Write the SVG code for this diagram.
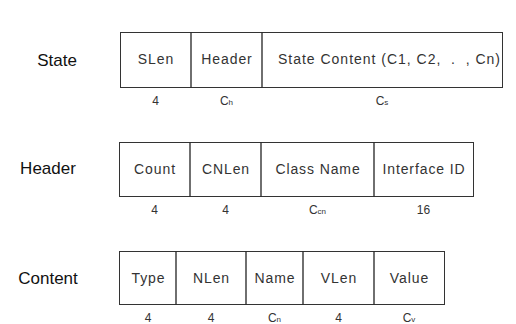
<svg xmlns="http://www.w3.org/2000/svg" width="516" height="324" viewBox="0 0 516 324">
<style>
.lbl{font-family:"Liberation Sans",Arial,sans-serif;font-size:17px;fill:#111;text-anchor:middle}
.f{font-family:"Liberation Sans",Arial,sans-serif;font-size:14px;fill:#333;text-anchor:middle;letter-spacing:0.9px}
.n{font-family:"Liberation Sans",Arial,sans-serif;font-size:12px;fill:#333;text-anchor:middle}
.s{font-size:8px}
rect{fill:#fff;stroke:#333;stroke-width:1}
line{stroke:#222;stroke-width:1.3}
</style>
<rect width="516" height="324" style="fill:#fff;stroke:none"/>
<g id="state">
<text class="lbl" x="57" y="66">State</text>
<rect x="120.5" y="32.5" width="382" height="55"/>
<line x1="191" y1="32.5" x2="191" y2="87.5"/>
<line x1="262" y1="32.5" x2="262" y2="87.5"/>
<text class="f" x="156" y="64">SLen</text>
<text class="f" x="227" y="64">Header</text>
<text class="f" x="389" y="64" textLength="222" lengthAdjust="spacing" style="letter-spacing:0" xml:space="preserve">State Content (C1, C2,  .  , Cn)</text>
<text class="n" x="155.5" y="105">4</text>
<text class="n" x="226.5" y="105">C<tspan class="s">h</tspan></text>
<text class="n" x="382" y="105">C<tspan class="s">s</tspan></text>
</g>
<g id="header">
<text class="lbl" x="48" y="174">Header</text>
<rect x="119.5" y="142.5" width="354" height="54"/>
<line x1="190" y1="142.5" x2="190" y2="196.5"/>
<line x1="261" y1="142.5" x2="261" y2="196.5"/>
<line x1="374" y1="142.5" x2="374" y2="196.5"/>
<text class="f" x="155" y="174">Count</text>
<text class="f" x="226" y="174">CNLen</text>
<text class="f" x="318" y="174">Class Name</text>
<text class="f" x="424" y="174">Interface ID</text>
<text class="n" x="154.5" y="214">4</text>
<text class="n" x="225.5" y="214">4</text>
<text class="n" x="317.5" y="214">C<tspan class="s">cn</tspan></text>
<text class="n" x="423.5" y="214">16</text>
</g>
<g id="content">
<text class="lbl" x="48" y="284">Content</text>
<rect x="119.5" y="251.5" width="325" height="53"/>
<line x1="176" y1="251.5" x2="176" y2="304.5"/>
<line x1="246" y1="251.5" x2="246" y2="304.5"/>
<line x1="303" y1="251.5" x2="303" y2="304.5"/>
<line x1="374" y1="251.5" x2="374" y2="304.5"/>
<text class="f" x="148.5" y="283">Type</text>
<text class="f" x="211.5" y="283">NLen</text>
<text class="f" x="275" y="283">Name</text>
<text class="f" x="339" y="283">VLen</text>
<text class="f" x="409.5" y="283">Value</text>
<text class="n" x="148" y="322">4</text>
<text class="n" x="211" y="322">4</text>
<text class="n" x="274.5" y="322">C<tspan class="s">n</tspan></text>
<text class="n" x="338.5" y="322">4</text>
<text class="n" x="409" y="322">C<tspan class="s">v</tspan></text>
</g>
<g id="connectors"></g>
</svg>
